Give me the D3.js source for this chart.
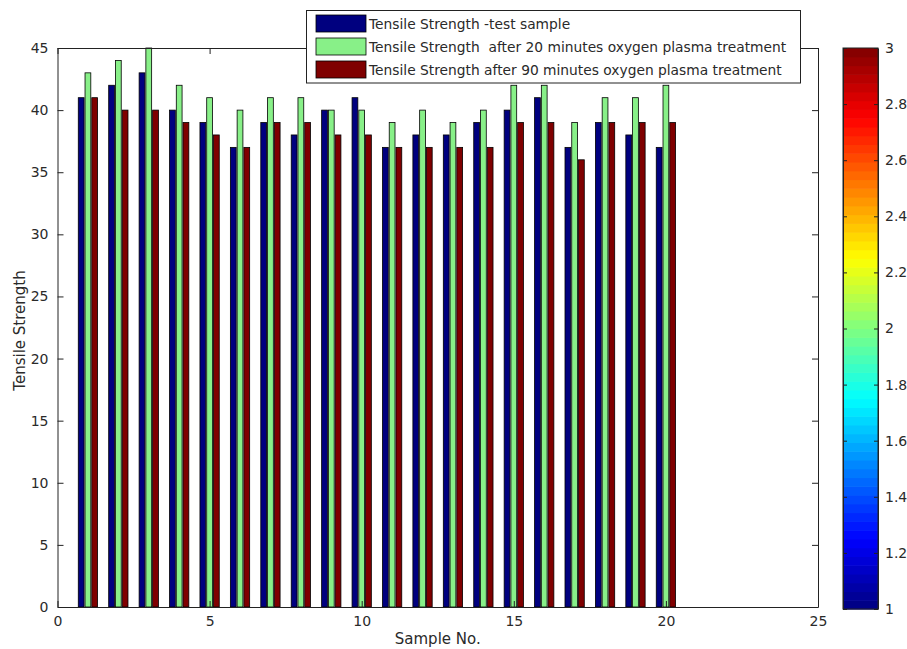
<!DOCTYPE html>
<html>
<head>
<meta charset="utf-8">
<script src="https://cdn.jsdelivr.net/npm/d3@7"></script>
<style>
  html, body { margin: 0; padding: 0; background: #fff; }
  svg { display: block; font-family: "DejaVu Sans", sans-serif; }
</style>
</head>
<body>
<svg id="chart" width="907" height="649"></svg>
<script>
// ---- data ----
const samples = [1,2,3,4,5,6,7,8,9,10,11,12,13,14,15,16,17,18,19,20];
const testSample = [41,42,43,40,39,37,39,38,40,41,37,38,38,39,40,41,37,39,38,37];
const after20min = [43,44,45,42,41,40,41,41,40,40,39,40,39,40,42,42,39,41,41,42];
const after90min = [41,40,40,39,38,37,39,39,38,38,37,37,37,37,39,39,36,39,39,39];
const seriesNames = [
  "Tensile Strength -test sample",
  "Tensile Strength  after 20 minutes oxygen plasma treatment",
  "Tensile Strength after 90 minutes oxygen plasma treatment"
];
const seriesColors = ["#00007f", "#88f088", "#7f0000"];
const xTicks = [0,5,10,15,20,25];
const yTicks = [0,5,10,15,20,25,30,35,40,45];
const cbTicks = [1,1.2,1.4,1.6,1.8,2,2.2,2.4,2.6,2.8,3];

// ---- layout ----
const svg = d3.select("#chart");
const L = 57.5, R = 818, T = 48, B = 607;
const x = d3.scaleLinear().domain([0,25]).range([L,R]);
const y = d3.scaleLinear().domain([0,45]).range([B,T]);
const fontSize = 14;
const fontFam = "DejaVu Sans, sans-serif";
const txtCol = "#2a2a2a";

svg.append("rect").attr("width",907).attr("height",649).attr("fill","#fff");

// bars
const series = [testSample, after20min, after90min];
const offsets = [-0.222, 0, 0.222];
const barW = 0.19;
series.forEach((vals, s) => {
  svg.append("g").selectAll("rect").data(samples).join("rect")
    .attr("x", (d,i) => x(d + offsets[s] - barW/2))
    .attr("width", x(barW) - x(0))
    .attr("y", (d,i) => y(vals[i]))
    .attr("height", (d,i) => y(0) - y(vals[i]))
    .attr("fill", seriesColors[s])
    .attr("stroke", "#000")
    .attr("stroke-width", 0.8);
});

// axes (MATLAB style: box, inward ticks)
const tickLen = 6;
const axB = d3.axisBottom(x).tickValues(xTicks).tickSizeInner(-tickLen).tickSizeOuter(0).tickPadding(9);
const axT = d3.axisTop(x).tickValues(xTicks).tickSizeInner(-tickLen).tickSizeOuter(0).tickFormat("");
const axL = d3.axisLeft(y).tickValues(yTicks).tickSizeInner(-tickLen).tickSizeOuter(0).tickPadding(9);
const axR = d3.axisRight(y).tickValues(yTicks).tickSizeInner(-tickLen).tickSizeOuter(0).tickFormat("");
function style(g){
  g.selectAll("path").attr("stroke","#222").attr("stroke-width",1);
  g.selectAll("line").attr("stroke","#222").attr("stroke-width",1);
  g.selectAll("text").attr("fill",txtCol).attr("font-size",fontSize).attr("font-family",fontFam);
}
svg.append("g").attr("transform",`translate(0,${B})`).call(axB).call(style);
svg.append("g").attr("transform",`translate(0,${T})`).call(axT).call(style);
svg.append("g").attr("transform",`translate(${L},0)`).call(axL).call(style);
svg.append("g").attr("transform",`translate(${R},0)`).call(axR).call(style);

// axis titles
svg.append("text").attr("x",(L+R)/2).attr("y",644).attr("text-anchor","middle")
  .attr("font-size",15).attr("font-family",fontFam).attr("fill",txtCol).text("Sample No.");
svg.append("text").attr("transform",`translate(25,${(T+B)/2 + 3}) rotate(-90)`).attr("text-anchor","middle")
  .attr("font-size",15).attr("font-family",fontFam).attr("fill",txtCol).text("Tensile Strength");

// legend
const lg = svg.append("g");
lg.append("rect").attr("x",306.5).attr("y",10.5).attr("width",494).attr("height",72.5)
  .attr("fill","#fff").attr("stroke","#222").attr("stroke-width",1);
seriesNames.forEach((name, i) => {
  const cy = 23.5 + i*23;
  lg.append("rect").attr("x",316).attr("y",cy-8.5).attr("width",50).attr("height",17)
    .attr("fill",seriesColors[i]).attr("stroke","#000").attr("stroke-width",0.8);
  lg.append("text").attr("x",369).attr("y",cy+5).attr("font-size",13.8).attr("font-family",fontFam).attr("fill",txtCol)
    .attr("xml:space","preserve").style("white-space","pre").text(name);
});

// colorbar (jet colormap)
function jet(t){ // t in [0,1]
  const r = Math.max(0, Math.min(1, Math.min(4*t-1.5, -4*t+4.5)));
  const g = Math.max(0, Math.min(1, Math.min(4*t-0.5, -4*t+3.5)));
  const b = Math.max(0, Math.min(1, Math.min(4*t+0.5, -4*t+2.5)));
  return d3.rgb(r*255, g*255, b*255);
}
const cbL = 843, cbR = 878, cbT = 48, cbB = 609;
const cy = d3.scaleLinear().domain([1,3]).range([cbB, cbT]);
const nCol = 64;
const levels = d3.range(nCol);
svg.append("g").selectAll("rect").data(levels).join("rect")
  .attr("x", cbL).attr("width", cbR-cbL)
  .attr("y", d => cy(1 + 2*(d+1)/nCol))
  .attr("height", d => cy(1 + 2*d/nCol) - cy(1 + 2*(d+1)/nCol) + 0.6)
  .attr("fill", d => jet((d+0.5)/nCol));
const cbAxR = d3.axisRight(cy).tickValues(cbTicks).tickSizeInner(-4).tickSizeOuter(0).tickPadding(7).tickFormat(d3.format("~g"));
const cbAxL = d3.axisLeft(cy).tickValues(cbTicks).tickSizeInner(-4).tickSizeOuter(0).tickFormat("");
svg.append("g").attr("transform",`translate(${cbR},0)`).call(cbAxR).call(style);
svg.append("g").attr("transform",`translate(${cbL},0)`).call(cbAxL).call(style);
svg.append("rect").attr("x",cbL).attr("y",cbT).attr("width",cbR-cbL).attr("height",cbB-cbT)
  .attr("fill","none").attr("stroke","#222").attr("stroke-width",1);
</script>
</body>
</html>
